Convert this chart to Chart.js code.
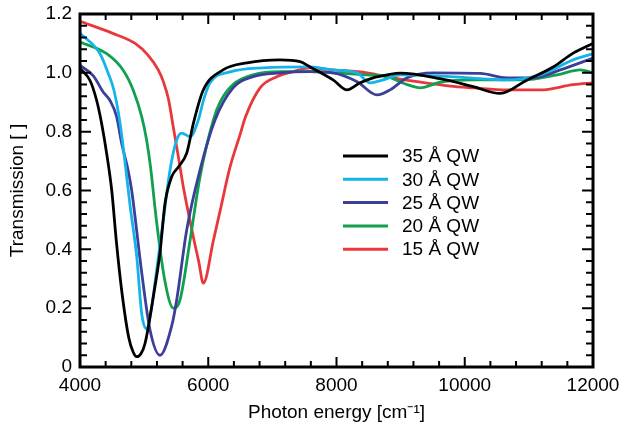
<!DOCTYPE html>
<html>
<head>
<meta charset="utf-8">
<script src="https://cdn.jsdelivr.net/npm/chart.js@4/dist/chart.umd.min.js"></script>
<style>
  body { margin: 0; background: #fff; }
</style>
</head>
<body>
<canvas id="g_transmision" width="622" height="432"></canvas>
<script>
// photon energy (cm-1) and transmission
var labels = ['35 Å QW', '30 Å QW', '25 Å QW', '20 Å QW', '15 Å QW'];
var colores = ['#000000', '#14b4ea', '#3b3f98', '#12a04f', '#e8383c'];

var e35 = [4000, 4156, 4260, 4338, 4420, 4495, 4570, 4650, 4760, 4830, 4885, 4950, 5014, 5144, 5248, 5326, 5430, 5534, 5664, 5770, 5919, 6231, 6605, 7120, 7432, 7588, 7947, 8165, 8368, 8571, 8789, 8992, 9616, 10131, 10552, 10973, 11379, 11691, 12000];
var t35 = [1.015, 0.974, 0.906, 0.827, 0.72, 0.60, 0.42, 0.26, 0.10, 0.05, 0.035, 0.045, 0.08, 0.24, 0.39, 0.557, 0.647, 0.68, 0.727, 0.83, 0.94, 1.01, 1.034, 1.044, 1.038, 1.02, 0.976, 0.942, 0.966, 0.983, 0.993, 0.999, 0.98, 0.953, 0.93, 0.976, 1.02, 1.067, 1.10];

var e30 = [4000, 4312, 4437, 4530, 4624, 4700, 4780, 4885, 4963, 5040, 5100, 5196, 5300, 5404, 5508, 5586, 5716, 5846, 5930, 6028, 6340, 6855, 7588, 7947, 8321, 8524, 8727, 8992, 9772, 10661, 11176, 11691, 12000];
var t30 = [1.135, 1.065, 1.0, 0.94, 0.83, 0.70, 0.55, 0.375, 0.18, 0.13, 0.18, 0.33, 0.50, 0.67, 0.772, 0.795, 0.783, 0.84, 0.91, 0.966, 1.003, 1.017, 1.02, 1.01, 1.0, 0.966, 0.976, 0.993, 0.987, 0.976, 0.993, 1.044, 1.065];

var e25 = [4000, 4208, 4364, 4468, 4572, 4650, 4749, 4806, 4963, 5092, 5248, 5430, 5508, 5664, 5872, 6106, 6387, 6699, 7120, 7588, 7947, 8321, 8633, 8836, 9101, 9507, 10240, 10661, 11067, 11488, 12000];
var t25 = [1.025, 0.99, 0.934, 0.906, 0.85, 0.76, 0.67, 0.60, 0.32, 0.126, 0.04, 0.14, 0.228, 0.466, 0.67, 0.84, 0.949, 0.987, 1.0, 1.004, 1.0, 0.97, 0.925, 0.942, 0.983, 1.0, 0.998, 0.983, 0.983, 1.01, 1.05];

var e20 = [4000, 4416, 4676, 4832, 4963, 5040, 5100, 5191, 5321, 5456, 5560, 5716, 5872, 6080, 6184, 6387, 6699, 7120, 7588, 7947, 8477, 8789, 9101, 9304, 9616, 10131, 10911, 11441, 11800, 12000];
var t20 = [1.105, 1.065, 1.008, 0.94, 0.85, 0.77, 0.68, 0.50, 0.296, 0.20, 0.228, 0.43, 0.647, 0.84, 0.90, 0.96, 0.993, 1.004, 1.004, 1.0, 0.993, 0.987, 0.96, 0.949, 0.968, 0.976, 0.976, 0.993, 1.01, 1.0];

var e15 = [4000, 4500, 4860, 5060, 5220, 5300, 5380, 5451, 5530, 5611, 5767, 5850, 5924, 6080, 6184, 6340, 6496, 6580, 6808, 7069, 7323, 7588, 7947, 8477, 8883, 9257, 9772, 10131, 10661, 11176, 11691, 12000];
var t15 = [1.175, 1.135, 1.10, 1.06, 1.01, 0.97, 0.91, 0.82, 0.72, 0.613, 0.443, 0.36, 0.285, 0.43, 0.53, 0.68, 0.79, 0.85, 0.949, 0.987, 1.004, 1.017, 1.01, 1.0, 0.983, 0.97, 0.955, 0.949, 0.942, 0.942, 0.96, 0.966];

var energias = [e35, e30, e25, e20, e15];
var transmisiones = [t35, t30, t25, t20, t15];

var fuente = '"Liberation Sans", Arial, sans-serif';

function puntos(e, t) {
    var p = [];
    for (let i = 0; i < e.length; i++) {
        p.push({x: e[i], y: t[i]});
    }
    return p;
}

var datasets = [];
for (let i = 0; i < labels.length; i++) {
    datasets.push({
        label: labels[i],
        data: puntos(energias[i], transmisiones[i]),
        borderColor: colores[i],
        backgroundColor: colores[i],
        borderWidth: 2.8,
        pointRadius: 0,
        cubicInterpolationMode: 'monotone',
        fill: false
    });
}

// frame with inward ticks on all four sides + legend inside the plot
var marco = {
    id: 'marco',
    afterDatasetsDraw: function (chart) {
        var ctx = chart.ctx;
        var a = chart.chartArea;
        var sx = chart.scales.x;
        var sy = chart.scales.y;
        ctx.save();
        ctx.strokeStyle = '#000';
        ctx.lineWidth = 2;
        ctx.beginPath();
        for (let v = 4000; v <= 12000; v += 400) {
            var px = sx.getPixelForValue(v);
            var l = (v % 2000 === 0) ? 10 : 6;
            ctx.moveTo(px, a.bottom); ctx.lineTo(px, a.bottom - l);
            ctx.moveTo(px, a.top); ctx.lineTo(px, a.top + l);
        }
        for (let k = 0; k <= 30; k++) {
            var py = sy.getPixelForValue(k * 0.04);
            var l2 = (k % 5 === 0) ? 11 : 7;
            ctx.moveTo(a.left, py); ctx.lineTo(a.left + l2, py);
            ctx.moveTo(a.right, py); ctx.lineTo(a.right - l2, py);
        }
        ctx.stroke();
        ctx.lineWidth = 3;
        ctx.strokeRect(a.left, a.top, a.right - a.left, a.bottom - a.top);

        // legend
        ctx.font = '19px ' + fuente;
        ctx.textBaseline = 'middle';
        ctx.textAlign = 'left';
        for (let i = 0; i < labels.length; i++) {
            var y = a.top + 142 + i * 23.3;
            ctx.strokeStyle = colores[i];
            ctx.lineWidth = 3;
            ctx.beginPath();
            ctx.moveTo(a.left + 263, y);
            ctx.lineTo(a.left + 308, y);
            ctx.stroke();
            ctx.fillStyle = '#000';
            ctx.fillText(labels[i], a.left + 322, y + 1);
        }
        ctx.restore();
    }
};

var ctx = document.getElementById('g_transmision').getContext('2d');
var myChart = new Chart(ctx, {
    type: 'line',
    data: { datasets: datasets },
    options: {
        responsive: false,
        animation: false,
        devicePixelRatio: 1,
        layout: { padding: { top: 14, right: 29, left: 0, bottom: 0 } },
        plugins: {
            legend: { display: false },
            tooltip: { enabled: false }
        },
        scales: {
            x: {
                type: 'linear',
                min: 4000,
                max: 12000,
                afterFit: function (s) {
                    s.height = 65;
                    s.paddingLeft = 0;
                    s.paddingRight = 0;
                },
                grid: { display: false, drawTicks: false },
                border: { display: false },
                ticks: {
                    stepSize: 2000,
                    padding: 7,
                    color: '#000',
                    font: { family: fuente, size: 19 },
                    maxRotation: 0,
                    callback: function (v) { return String(v); }
                },
                title: {
                    display: true,
                    text: 'Photon energy [cm⁻¹]',
                    color: '#000',
                    font: { family: fuente, size: 19 },
                    padding: { top: 0, bottom: 8 }
                }
            },
            y: {
                min: 0,
                max: 1.2,
                afterFit: function (s) {
                    s.width = 80;
                    s.paddingTop = 0;
                    s.paddingBottom = 0;
                },
                grid: { display: false, drawTicks: false },
                border: { display: false },
                ticks: {
                    stepSize: 0.2,
                    padding: 8,
                    color: '#000',
                    font: { family: fuente, size: 19 },
                    callback: function (v) { return v === 0 ? '0' : v.toFixed(1); }
                },
                title: {
                    display: true,
                    text: 'Transmission [ ]',
                    color: '#000',
                    font: { family: fuente, size: 19 },
                    padding: { top: 6, bottom: 0 }
                }
            }
        }
    },
    plugins: [marco]
});
</script>
</body>
</html>
